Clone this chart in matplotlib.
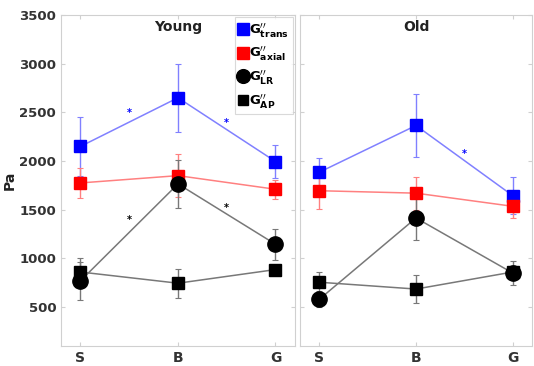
import matplotlib
matplotlib.use("Agg")
import matplotlib.pyplot as plt
import numpy as np

categories = ["S", "B", "G"]
yticks = [500, 1000, 1500, 2000, 2500, 3000, 3500]

# Young
young_trans = [2150, 2650, 1995]
young_trans_err = [300, 350, 165]
young_axial = [1775, 1850, 1710]
young_axial_err = [155, 220, 100]
young_lr = [770, 1765, 1145]
young_lr_err = [195, 250, 160]
young_ap = [860, 745, 885]
young_ap_err = [140, 150, 40]
young_star_x = [1.5, 2.5, 1.5, 2.5]
young_star_y = [2490, 2390, 1390, 1520]
young_star_c = ["blue", "blue", "black", "black"]

# Old
old_trans = [1885, 2365, 1645]
old_trans_err = [150, 320, 190]
old_axial = [1695, 1670, 1535]
old_axial_err = [190, 170, 120]
old_lr = [580, 1415, 850]
old_lr_err = [80, 230, 120]
old_ap = [755, 685, 860]
old_ap_err = [100, 140, 60]
old_star_x = [2.5]
old_star_y = [2075]
old_star_c = ["blue"]

labels = [r"$\mathbf{G}^{\prime\prime}_{\mathbf{trans}}$", r"$\mathbf{G}^{\prime\prime}_{\mathbf{axial}}$",
          r"$\mathbf{G}^{\prime\prime}_{\mathbf{LR}}$", r"$\mathbf{G}^{\prime\prime}_{\mathbf{AP}}$"]

fig = plt.figure(figsize=(5.34, 3.66), dpi=100)
ax1 = fig.add_axes([61/534, (366-346)/366, 234/534, 331/366])
ax2 = fig.add_axes([300/534, (366-346)/366, 232/534, 331/366])

x = np.arange(1, 4)
spine_c = "#d0d0d0"

def draw(ax, trans, te, axial, ae, lr, le, ap, pe, sx, sy, sc, title):
    handles = []
    specs = [
        (trans, te, "#0000ff", "#8080ff", "s", 9),
        (axial, ae, "#ff0000", "#ff8080", "s", 9),
        (lr, le, "black", "#787878", "o", 11),
        (ap, pe, "black", "#787878", "s", 8.5),
    ]
    for vals, err, mc, lc, mk, ms in specs:
        ax.errorbar(x, vals, yerr=err, color=lc, lw=1.1, elinewidth=1.0,
                    capsize=2, capthick=0.8, zorder=2)
        h, = ax.plot(x, vals, linestyle="none", marker=mk, ms=ms, color=mc,
                     mec=mc, zorder=3)
        handles.append(h)
    for a, b, c in zip(sx, sy, sc):
        ax.text(a, b, "*", color=c, ha="center", va="center", fontsize=7,
                fontweight="bold", zorder=4)
    ax.set_xlim(0.8, 3.2)
    ax.set_ylim(100, 3500)
    ax.set_xticks(x)
    ax.set_xticklabels(categories, fontsize=10, fontweight="bold", color="#333333")
    ax.set_yticks(yticks)
    ax.tick_params(direction="in", length=3, color=spine_c, top=True, right=True)
    for s in ax.spines.values():
        s.set_color(spine_c)
    ax.text(0.5, 0.985, title, transform=ax.transAxes, ha="center", va="top",
            fontsize=10, fontweight="bold", color="#222222")
    return handles

h = draw(ax1, young_trans, young_trans_err, young_axial, young_axial_err,
         young_lr, young_lr_err, young_ap, young_ap_err,
         young_star_x, young_star_y, young_star_c, "Young")
draw(ax2, old_trans, old_trans_err, old_axial, old_axial_err,
     old_lr, old_lr_err, old_ap, old_ap_err,
     old_star_x, old_star_y, old_star_c, "Old")

ax1.set_yticklabels([str(v) for v in yticks], fontsize=9.5, fontweight="bold", color="#333333")
ax1.set_ylabel("Pa", fontsize=10, fontweight="bold", color="#222222", labelpad=2)
ax2.set_yticklabels([])

leg = ax1.legend(h, labels, loc="upper right", fontsize=9.5, handlelength=0.6,
                 handletextpad=0.2, borderpad=0.3, labelspacing=0.42,
                 frameon=True, fancybox=False, borderaxespad=0.15,
                 markerscale=0.9)
leg.get_frame().set_edgecolor(spine_c)
leg.get_frame().set_linewidth(0.8)

fig.savefig("out.png", dpi=100, facecolor="white")
